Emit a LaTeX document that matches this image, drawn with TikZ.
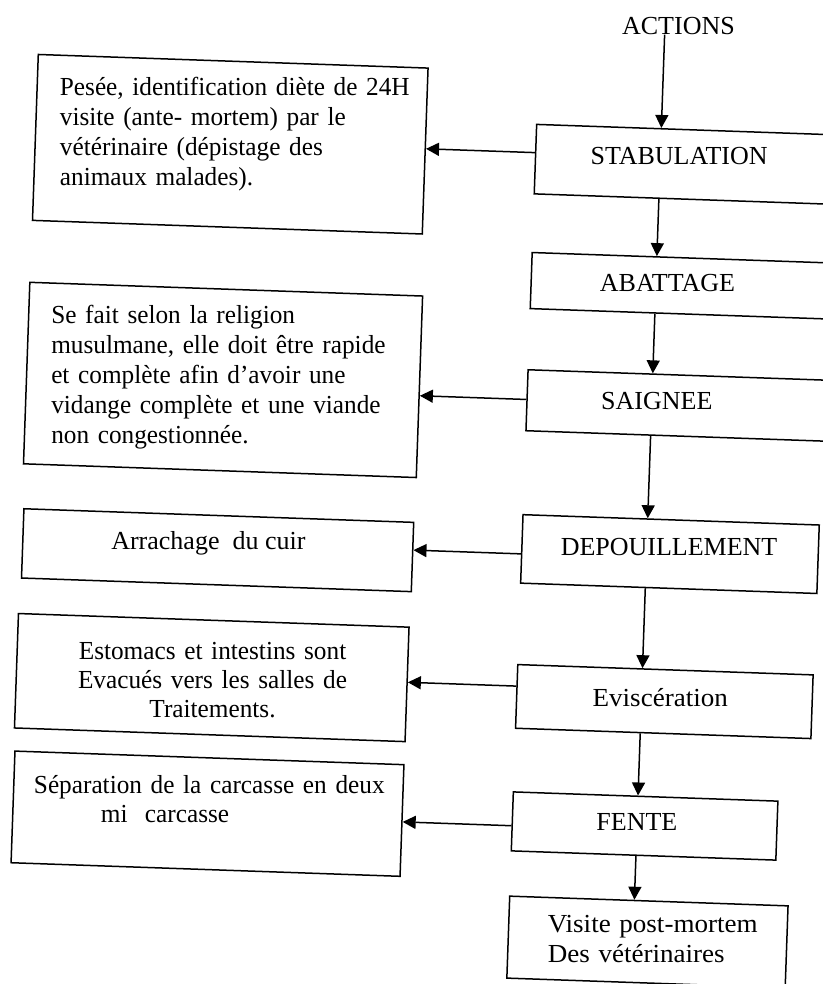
\documentclass[tikz,border=0pt]{standalone}
\usepackage{fontspec}
\setmainfont{Liberation Serif}
\newfontfamily\narrowserif[FakeStretch=0.972]{Liberation Serif}
\newfontfamily\wideserif[FakeStretch=1.04]{Liberation Serif}
\usetikzlibrary{arrows.meta,calc}
\begin{document}
\begin{tikzpicture}[x=1pt,y=-1pt,
  boxs/.style={draw, rectangle, line width=1.5pt, inner sep=0pt, anchor=north west},
  txt/.style={font=\fontsize{26}{30}\selectfont, inner sep=0pt},
  ltxt/.style={font=\narrowserif\fontsize{26}{30}\selectfont, inner sep=0pt},
  ltxtb/.style={font=\narrowserif\fontsize{26}{29}\selectfont, inner sep=0pt},
  wtxt/.style={font=\wideserif\fontsize{26}{30}\selectfont, inner sep=0pt},
  arr/.style={line width=1.5pt, -{Triangle[length=13pt,width=13pt]}}]
\path[use as bounding box, fill=white] (0,0) rectangle (822,984);
% boxes (the scan is turned by about 2 degrees)
\begin{scope}[rotate around={-2:(411,492)}, transform shape]
  \node[boxs, minimum width=390pt, minimum height=166pt]   (b1) at (22.5,67) {};
  \node[boxs, minimum width=393pt, minimum height=181.6pt] (b2) at (22,295) {};
  \node[boxs, minimum width=390pt, minimum height=69.3pt]  (b3) at (24,521.5) {};
  \node[boxs, minimum width=390.8pt, minimum height=114.5pt] (b4) at (22.2,626.4) {};
  \node[boxs, minimum width=389.2pt, minimum height=111.7pt] (b5) at (23.5,764) {};
  \node[boxs, minimum width=327pt, minimum height=69.5pt] (stab)  at (523,119.5) {};
  \node[boxs, minimum width=327pt, minimum height=56.1pt] (abat)  at (523,247.7) {};
  \node[boxs, minimum width=327pt, minimum height=61pt]   (saig)  at (523,365) {};
  \node[boxs, minimum width=296.4pt, minimum height=68.5pt] (dep) at (523,510) {};
  \node[boxs, minimum width=295.5pt, minimum height=63.7pt] (evi) at (523,660) {};
  \node[boxs, minimum width=264.7pt, minimum height=59pt] (fente) at (523,787.4) {};
  \node[boxs, minimum width=278.5pt, minimum height=82pt] (vis)   at (523,891.7) {};
\end{scope}
% texts (placed on the turned layout, set level)
\begin{scope}[rotate around={-2:(411,492)}]
  \node[txt, anchor=base] (actions) at (662.3,25.6) {ACTIONS};
  \node[txt, anchor=base] (stabt) at (667.5,155.3) {STABULATION};
  \node[txt, anchor=base] (abatt) at (660.3,282.7) {ABATTAGE};
  \node[txt, anchor=base] (saigt) at (653.8,400.5) {SAIGNEE};
  \node[txt, anchor=base] (dept)  at (671.1,546) {DEPOUILLEMENT};
  \node[wtxt, anchor=base] (evit)  at (667.6,698) {Eviscération};
  \node[txt, anchor=base] (fentet) at (648.6,822.8) {FENTE};
  \node[wtxt, anchor=base, text width=240pt, align=left] (vist) at (683,923)
    {Visite post-mortem\\Des vétérinaires};
  \node[ltxt, anchor=base, text width=370pt, align=left] (b1t) at (231.2,102)
    {Pesée, identification diète de 24H\\visite (ante- mortem) par le\\vétérinaire (dépistage des\\animaux malades).};
  \node[ltxt, anchor=base, text width=370pt, align=left] (b2t) at (230.5,330)
    {Se fait selon la religion\\musulmane, elle doit être rapide\\et complète afin d’avoir une\\vidange complète et une viande\\non congestionnée.};
  \node[txt, anchor=base] (b3t) at (210.5,556.5) {Arrachage~ du cuir};
  \node[ltxtb, anchor=base, text width=380pt, align=center] (b4t) at (218.5,666)
    {Estomacs et intestins sont\\Evacués vers les salles de\\Traitements.};
  \node[ltxtb, anchor=base, text width=370pt, align=left] (b5t) at (229.6,800)
    {Séparation de la carcasse en deux\\\hspace*{67pt}mi~ carcasse};
\end{scope}
% connectors
\draw[arr] ($(actions.base)!13.8pt!(actions.base west)$) -- ($(stab.north west)!125.5pt!(stab.north east)$);
\draw[arr] ($(stab.south west)!125.5pt!(stab.south east)$) -- ($(abat.north west)!125.5pt!(abat.north east)$);
\draw[arr] ($(abat.south west)!125.5pt!(abat.south east)$) -- ($(saig.north west)!125.5pt!(saig.north east)$);
\draw[arr] ($(saig.south west)!125.5pt!(saig.south east)$) -- ($(dep.north west)!125.5pt!(dep.north east)$);
\draw[arr] ($(dep.south west)!125.5pt!(dep.south east)$) -- ($(evi.north west)!125.5pt!(evi.north east)$);
\draw[arr] ($(evi.south west)!125.5pt!(evi.south east)$) -- ($(fente.north west)!125.5pt!(fente.north east)$);
\draw[arr] ($(fente.south west)!125.5pt!(fente.south east)$) -- ($(vis.north west)!125.5pt!(vis.north east)$);
\draw[arr] ($(stab.north west)!29pt!(stab.south west)$) -- ($(b1.north east)!81.5pt!(b1.south east)$);
\draw[arr] ($(saig.north west)!30.5pt!(saig.south west)$) -- ($(b2.north east)!100.5pt!(b2.south east)$);
\draw[arr] ($(dep.north west)!40pt!(dep.south west)$) -- ($(b3.north east)!28.5pt!(b3.south east)$);
\draw[arr] ($(evi.north west)!22.3pt!(evi.south west)$) -- ($(b4.north east)!55.9pt!(b4.south east)$);
\draw[arr] ($(fente.north west)!34.6pt!(fente.south west)$) -- ($(b5.north east)!58pt!(b5.south east)$);
\end{tikzpicture}
\end{document}
